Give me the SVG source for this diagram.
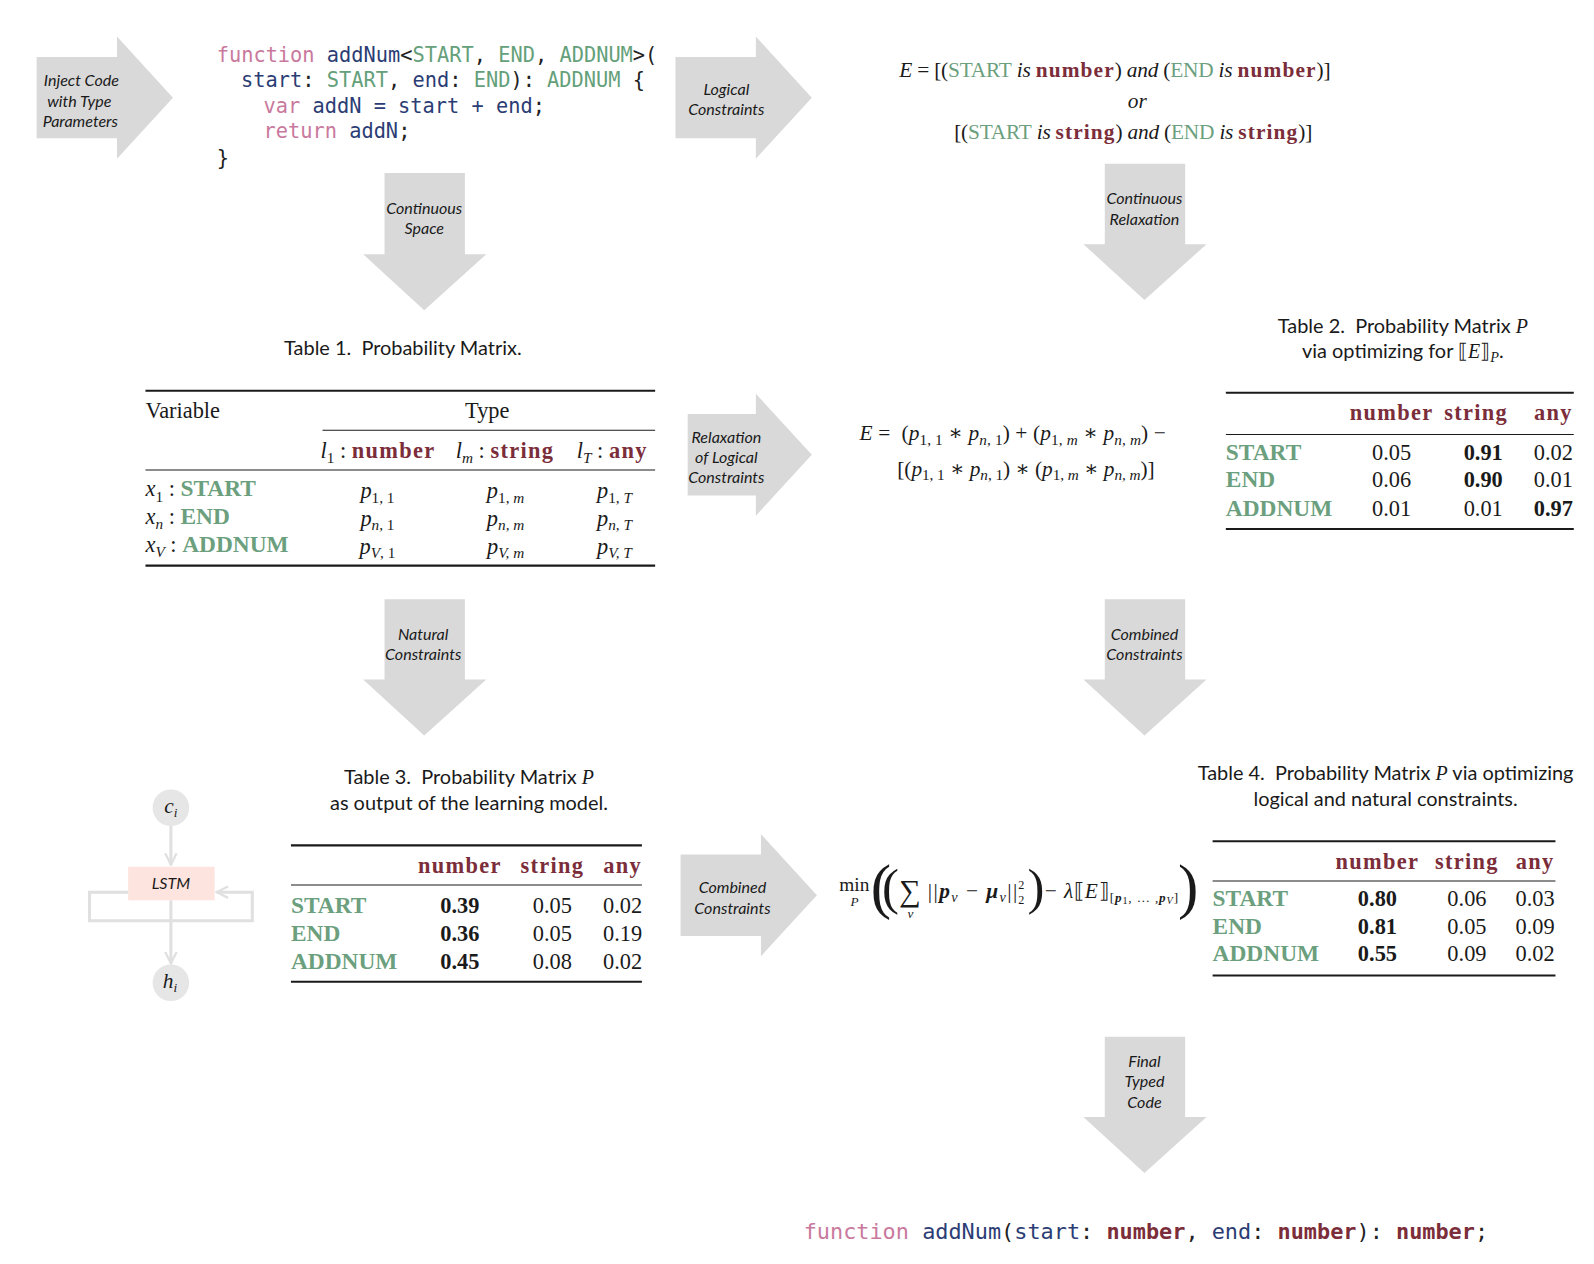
<svg xmlns="http://www.w3.org/2000/svg" width="1594" height="1264" viewBox="0 0 1594 1264">
<style>
.arrow{fill:#d9d9d9;}
.lbl{font-family:Lato,"Open Sans",sans-serif;font-style:italic;font-size:15.8px;fill:#1a1a1a;text-anchor:middle;}
.code{font-family:"DejaVu Sans Mono","Liberation Mono",monospace;font-size:20px;fill:#2b3d74;}
.code2{font-family:"DejaVu Sans Mono","Liberation Mono",monospace;font-size:21.5px;fill:#2b3d74;}
.pk{fill:#c9799d;}
.nv{fill:#2b3d74;}
.gr{fill:#64a07a;}
.dk{fill:#222;}
.rd{fill:#7b2d3a;font-weight:bold;}
.cap{font-family:Lato,"Open Sans",sans-serif;font-size:19.6px;fill:#1a1a1a;text-anchor:middle;}
.tb{font-family:"Liberation Serif","DejaVu Serif",serif;font-size:22px;fill:#1a1a1a;}
.eq{font-family:"Liberation Serif","DejaVu Serif",serif;font-size:21px;fill:#1a1a1a;}
.it{font-style:italic;}
.g{fill:#6b9f7e;font-weight:bold;font-size:23px;}
.gn{fill:#6b9f7e;}
.r{fill:#7b2d3a;font-weight:bold;letter-spacing:1.3px;}
.b{font-weight:bold;}
.mid{text-anchor:middle;}
.thick{stroke:#1a1a1a;stroke-width:2;}
.thin{stroke:#1a1a1a;stroke-width:1;}
.lstm{stroke:#e0e0e0;stroke-width:3;fill:none;}
</style>
<defs>
<marker id="chev" viewBox="0 0 10 10" refX="9" refY="5" markerWidth="14" markerHeight="14" orient="auto" markerUnits="userSpaceOnUse">
<path d="M1,1 L9,5 L1,9" fill="none" stroke="#e0e0e0" stroke-width="1.6"/>
</marker>
</defs>
<g transform="scale(1.0173)">
<g id="connectors">
<g id="arrow-inject">
<polygon class="arrow" points="36,56 115,56 115,36 170,96 115,156 115,136 36,136"/>
<text class="lbl" x="80" y="85">Inject Code</text>
<text class="lbl" x="78" y="105">with Type</text>
<text class="lbl" x="79" y="125">Parameters</text>
</g>
<g id="arrow-logical">
<polygon class="arrow" points="664,56 743,56 743,36 798,96 743,156 743,136 664,136"/>
<text class="lbl" x="714" y="93">Logical</text>
<text class="lbl" x="714" y="113">Constraints</text>
</g>
<g id="arrow-contspace">
<polygon class="arrow" points="378,170 457,170 457,250 478,250 417,305 357,250 378,250"/>
<text class="lbl" x="417" y="210">Continuous</text>
<text class="lbl" x="417" y="230">Space</text>
</g>
<g id="arrow-contrelax">
<polygon class="arrow" points="1086,161 1165,161 1165,240 1186,240 1125,295 1065,240 1086,240"/>
<text class="lbl" x="1125" y="201">Continuous</text>
<text class="lbl" x="1125" y="221">Relaxation</text>
</g>
<g id="arrow-relax">
<polygon class="arrow" points="676,407 743,407 743,387 798,447 743,507 743,487 676,487"/>
<text class="lbl" x="714" y="435">Relaxation</text>
<text class="lbl" x="714" y="455">of Logical</text>
<text class="lbl" x="714" y="475">Constraints</text>
</g>
<g id="arrow-natural">
<polygon class="arrow" points="378,589 457,589 457,668 478,668 417,723 357,668 378,668"/>
<text class="lbl" x="416" y="629">Natural</text>
<text class="lbl" x="416" y="649">Constraints</text>
</g>
<g id="arrow-combined-down">
<polygon class="arrow" points="1086,589 1165,589 1165,668 1186,668 1125,723 1065,668 1086,668"/>
<text class="lbl" x="1125" y="629">Combined</text>
<text class="lbl" x="1125" y="649">Constraints</text>
</g>
<g id="arrow-combined-right">
<polygon class="arrow" points="669,840 748,840 748,820 803,880 748,940 748,920 669,920"/>
<text class="lbl" x="720" y="878">Combined</text>
<text class="lbl" x="720" y="898">Constraints</text>
</g>
<g id="arrow-final">
<polygon class="arrow" points="1086,1019 1165,1019 1165,1098 1186,1098 1125,1153 1065,1098 1086,1098"/>
<text class="lbl" x="1125" y="1049">Final</text>
<text class="lbl" x="1125" y="1069">Typed</text>
<text class="lbl" x="1125" y="1089">Code</text>
</g>
</g>

<g id="code-input">
<text class="code" xml:space="preserve" x="213" y="61"><tspan class="pk">function</tspan> <tspan class="nv">addNum</tspan><tspan class="dk">&lt;</tspan><tspan class="gr">START</tspan><tspan class="dk">, </tspan><tspan class="gr">END</tspan><tspan class="dk">, </tspan><tspan class="gr">ADDNUM</tspan><tspan class="dk">&gt;(</tspan></text>
<text class="code" xml:space="preserve" x="237" y="86"><tspan class="nv">start</tspan><tspan class="dk">: </tspan><tspan class="gr">START</tspan><tspan class="dk">, </tspan><tspan class="nv">end</tspan><tspan class="dk">: </tspan><tspan class="gr">END</tspan><tspan class="dk">): </tspan><tspan class="gr">ADDNUM</tspan><tspan class="dk"> {</tspan></text>
<text class="code" xml:space="preserve" x="259" y="111"><tspan class="pk">var</tspan> <tspan class="nv">addN = start + end</tspan><tspan class="dk">;</tspan></text>
<text class="code" xml:space="preserve" x="259" y="136"><tspan class="pk">return</tspan> <tspan class="nv">addN</tspan><tspan class="dk">;</tspan></text>
<text class="code" x="213" y="162"><tspan class="dk">}</tspan></text>
</g>

<g id="logical-eq">
<text class="eq" x="884" y="76" textLength="424" lengthAdjust="spacing"><tspan class="it">E</tspan> = [(<tspan class="gn">START</tspan> <tspan class="it">is</tspan> <tspan class="r">number</tspan>) <tspan class="it">and</tspan> (<tspan class="gn">END</tspan> <tspan class="it">is</tspan> <tspan class="r">number</tspan>)]</text>
<text class="eq mid it" x="1118" y="106">or</text>
<text class="eq" x="938" y="137" textLength="352" lengthAdjust="spacing">[(<tspan class="gn">START</tspan> <tspan class="it">is</tspan> <tspan class="r">string</tspan>) <tspan class="it">and</tspan> (<tspan class="gn">END</tspan> <tspan class="it">is</tspan> <tspan class="r">string</tspan>)]</text>
</g>

<g id="table1">
<text class="cap" xml:space="preserve" x="396" y="349">Table 1.  Probability Matrix.</text>
<line class="thick" x1="143" y1="384" x2="644" y2="384"/>
<text class="tb" x="143" y="411">Variable</text>
<text class="tb mid" x="479" y="411">Type</text>
<line class="thin" x1="317" y1="423" x2="644" y2="423"/>
<text class="tb" x="315" y="450"><tspan class="it">l</tspan><tspan style="font-size:15px" dy="5">1</tspan><tspan dy="-5"> : </tspan><tspan class="r">number</tspan></text>
<text class="tb" x="448" y="450"><tspan class="it">l</tspan><tspan class="it" style="font-size:15px" dy="5">m</tspan><tspan dy="-5"> : </tspan><tspan class="r">string</tspan></text>
<text class="tb" x="567" y="450"><tspan class="it">l</tspan><tspan class="it" style="font-size:15px" dy="5">T</tspan><tspan dy="-5"> : </tspan><tspan class="r">any</tspan></text>
<line class="thin" x1="143" y1="462" x2="644" y2="462"/>
<text class="tb" x="143" y="488"><tspan class="it">x</tspan><tspan style="font-size:15px" dy="5">1</tspan><tspan dy="-5"> : </tspan><tspan class="g">START</tspan></text>
<text class="tb" x="143" y="515"><tspan class="it">x</tspan><tspan class="it" style="font-size:15px" dy="5">n</tspan><tspan dy="-5"> : </tspan><tspan class="g">END</tspan></text>
<text class="tb" x="143" y="543"><tspan class="it">x</tspan><tspan class="it" style="font-size:15px" dy="5">V</tspan><tspan dy="-5"> : </tspan><tspan class="g">ADDNUM</tspan></text>
<text class="tb mid" x="371" y="490"><tspan class="it">p</tspan><tspan style="font-size:15px" dy="4">1, 1</tspan></text>
<text class="tb mid" x="497" y="490"><tspan class="it">p</tspan><tspan style="font-size:15px" dy="4">1, <tspan class="it">m</tspan></tspan></text>
<text class="tb mid" x="604" y="490"><tspan class="it">p</tspan><tspan style="font-size:15px" dy="4">1, <tspan class="it">T</tspan></tspan></text>
<text class="tb mid" x="371" y="517"><tspan class="it">p</tspan><tspan style="font-size:15px" dy="4"><tspan class="it">n</tspan>, 1</tspan></text>
<text class="tb mid" x="497" y="517"><tspan class="it">p</tspan><tspan style="font-size:15px" dy="4" class="it">n, m</tspan></text>
<text class="tb mid" x="604" y="517"><tspan class="it">p</tspan><tspan style="font-size:15px" dy="4" class="it">n, T</tspan></text>
<text class="tb mid" x="371" y="545"><tspan class="it">p</tspan><tspan style="font-size:15px" dy="4"><tspan class="it">V</tspan>, 1</tspan></text>
<text class="tb mid" x="497" y="545"><tspan class="it">p</tspan><tspan style="font-size:15px" dy="4" class="it">V, m</tspan></text>
<text class="tb mid" x="604" y="545"><tspan class="it">p</tspan><tspan style="font-size:15px" dy="4" class="it">V, T</tspan></text>
<line class="thick" x1="143" y1="556" x2="644" y2="556"/>
</g>

<g id="relax-eq">
<text class="eq" xml:space="preserve" x="845" y="433" textLength="301" lengthAdjust="spacing"><tspan class="it">E</tspan> =  (<tspan class="it">p</tspan><tspan style="font-size:15px" dy="4">1, 1</tspan><tspan dy="-4"> ∗ </tspan><tspan class="it">p</tspan><tspan style="font-size:15px" dy="4"><tspan class="it">n</tspan>, 1</tspan><tspan dy="-4">) + (</tspan><tspan class="it">p</tspan><tspan style="font-size:15px" dy="4">1, <tspan class="it">m</tspan></tspan><tspan dy="-4"> ∗ </tspan><tspan class="it">p</tspan><tspan style="font-size:15px" dy="4" class="it">n, m</tspan><tspan dy="-4">) −</tspan></text>
<text class="eq" xml:space="preserve" x="882" y="468" textLength="253" lengthAdjust="spacing">[(<tspan class="it">p</tspan><tspan style="font-size:15px" dy="4">1, 1</tspan><tspan dy="-4"> ∗ </tspan><tspan class="it">p</tspan><tspan style="font-size:15px" dy="4"><tspan class="it">n</tspan>, 1</tspan><tspan dy="-4">) ∗ (</tspan><tspan class="it">p</tspan><tspan style="font-size:15px" dy="4">1, <tspan class="it">m</tspan></tspan><tspan dy="-4"> ∗ </tspan><tspan class="it">p</tspan><tspan style="font-size:15px" dy="4" class="it">n, m</tspan><tspan dy="-4">)]</tspan></text>
</g>

<g id="table2">
<text class="cap" xml:space="preserve" x="1379" y="327">Table 2.  Probability Matrix <tspan style="font-family:'Liberation Serif';font-style:italic">P</tspan></text>
<text class="cap" x="1379" y="352">via optimizing for ⟦<tspan style="font-family:'Liberation Serif';font-style:italic">E</tspan>⟧<tspan style="font-family:'Liberation Serif';font-style:italic;font-size:14px" dy="4">P</tspan><tspan dy="-4">.</tspan></text>
<line class="thick" x1="1205" y1="386" x2="1547" y2="386"/>
<text class="tb mid r" x="1368" y="413">number</text>
<text class="tb mid r" x="1451" y="413">string</text>
<text class="tb mid r" x="1527" y="413">any</text>
<line class="thin" x1="1205" y1="427" x2="1547" y2="427"/>
<text class="tb g" x="1205" y="452">START</text>
<text class="tb g" x="1205" y="479">END</text>
<text class="tb g" x="1205" y="507">ADDNUM</text>
<text class="tb mid" x="1368" y="452">0.05</text>
<text class="tb mid b" x="1458" y="452">0.91</text>
<text class="tb mid" x="1527" y="452">0.02</text>
<text class="tb mid" x="1368" y="479">0.06</text>
<text class="tb mid b" x="1458" y="479">0.90</text>
<text class="tb mid" x="1527" y="479">0.01</text>
<text class="tb mid" x="1368" y="507">0.01</text>
<text class="tb mid" x="1458" y="507">0.01</text>
<text class="tb mid b" x="1527" y="507">0.97</text>
<line class="thick" x1="1205" y1="520" x2="1547" y2="520"/>
</g>

<g id="lstm">
<circle cx="168" cy="794" r="18" fill="#e6e6e6"/>
<text class="eq mid it" x="168" y="799">c<tspan style="font-size:13px" dy="4">i</tspan></text>
<line class="lstm" x1="168" y1="812" x2="168" y2="850" marker-end="url(#chev)"/>
<rect x="126" y="852" width="85" height="33" fill="#fde4df"/>
<text class="lbl" x="168" y="874">LSTM</text>
<polyline class="lstm" points="126,877 88,877 88,905 248,905 248,877 213,877" marker-end="url(#chev)"/>
<line class="lstm" x1="168" y1="885" x2="168" y2="947" marker-end="url(#chev)"/>
<circle cx="168" cy="966" r="18" fill="#e6e6e6"/>
<text class="eq mid it" x="167" y="971">h<tspan style="font-size:13px" dy="4">i</tspan></text>
</g>

<g id="table3">
<text class="cap" xml:space="preserve" x="461" y="771">Table 3.  Probability Matrix <tspan style="font-family:'Liberation Serif';font-style:italic">P</tspan></text>
<text class="cap" x="461" y="796">as output of the learning model.</text>
<line class="thick" x1="286" y1="831" x2="631" y2="831"/>
<text class="tb mid r" x="452" y="858">number</text>
<text class="tb mid r" x="543" y="858">string</text>
<text class="tb mid r" x="612" y="858">any</text>
<line class="thin" x1="286" y1="870" x2="631" y2="870"/>
<text class="tb g" x="286" y="897">START</text>
<text class="tb g" x="286" y="925">END</text>
<text class="tb g" x="286" y="953">ADDNUM</text>
<text class="tb mid b" x="452" y="897">0.39</text>
<text class="tb mid" x="543" y="897">0.05</text>
<text class="tb mid" x="612" y="897">0.02</text>
<text class="tb mid b" x="452" y="925">0.36</text>
<text class="tb mid" x="543" y="925">0.05</text>
<text class="tb mid" x="612" y="925">0.19</text>
<text class="tb mid b" x="452" y="953">0.45</text>
<text class="tb mid" x="543" y="953">0.08</text>
<text class="tb mid" x="612" y="953">0.02</text>
<line class="thick" x1="286" y1="965" x2="631" y2="965"/>
</g>

<g id="min-eq">
<text class="eq" x="825" y="876" style="font-size:19px">min</text>
<text class="eq it" x="836" y="891" style="font-size:13px">P</text>
<text class="eq" x="856" y="892" style="font-size:60px">(</text>
<text class="eq" x="867" y="889" style="font-size:50px">(</text>
<text class="eq" x="884" y="886" style="font-size:30px">∑</text>
<text class="eq it" x="892" y="902" style="font-size:13px">v</text>
<text class="eq" x="912" y="883" textLength="88" lengthAdjust="spacing">||<tspan class="b it">p</tspan><tspan style="font-size:14px" dy="4" class="it">v</tspan><tspan dy="-4"> − </tspan><tspan class="b it">μ</tspan><tspan style="font-size:14px" dy="4" class="it">v</tspan><tspan dy="-4">||</tspan></text>
<text class="eq" x="1001" y="874" style="font-size:12px">2</text>
<text class="eq" x="1001" y="889" style="font-size:12px">2</text>
<text class="eq" x="1010" y="889" style="font-size:50px">)</text>
<text class="eq" x="1027" y="883" textLength="131" lengthAdjust="spacing">− <tspan class="it">λ</tspan>⟦<tspan class="it">E</tspan>⟧<tspan style="font-size:13px" dy="4">[<tspan class="b it">p</tspan><tspan style="font-size:10px" dy="2">1</tspan><tspan dy="-2">, … ,</tspan><tspan class="b it">p</tspan><tspan style="font-size:10px" dy="2" class="it">V</tspan><tspan dy="-2">]</tspan></tspan></text>
<text class="eq" x="1158" y="892" style="font-size:60px">)</text>
</g>

<g id="table4">
<text class="cap" xml:space="preserve" x="1362" y="767">Table 4.  Probability Matrix <tspan style="font-family:'Liberation Serif';font-style:italic">P</tspan> via optimizing</text>
<text class="cap" x="1362" y="792">logical and natural constraints.</text>
<line class="thick" x1="1192" y1="827" x2="1529" y2="827"/>
<text class="tb mid r" x="1354" y="854">number</text>
<text class="tb mid r" x="1442" y="854">string</text>
<text class="tb mid r" x="1509" y="854">any</text>
<line class="thin" x1="1192" y1="866" x2="1529" y2="866"/>
<text class="tb g" x="1192" y="891">START</text>
<text class="tb g" x="1192" y="918">END</text>
<text class="tb g" x="1192" y="945">ADDNUM</text>
<text class="tb mid b" x="1354" y="891">0.80</text>
<text class="tb mid" x="1442" y="891">0.06</text>
<text class="tb mid" x="1509" y="891">0.03</text>
<text class="tb mid b" x="1354" y="918">0.81</text>
<text class="tb mid" x="1442" y="918">0.05</text>
<text class="tb mid" x="1509" y="918">0.09</text>
<text class="tb mid b" x="1354" y="945">0.55</text>
<text class="tb mid" x="1442" y="945">0.09</text>
<text class="tb mid" x="1509" y="945">0.02</text>
<line class="thick" x1="1192" y1="959" x2="1529" y2="959"/>
</g>

<g id="code-output">
<text class="code2" xml:space="preserve" x="790" y="1218"><tspan class="pk">function</tspan> <tspan class="nv">addNum</tspan><tspan class="dk">(</tspan><tspan class="nv">start</tspan><tspan class="dk">: </tspan><tspan class="rd">number</tspan><tspan class="dk">, </tspan><tspan class="nv">end</tspan><tspan class="dk">: </tspan><tspan class="rd">number</tspan><tspan class="dk">): </tspan><tspan class="rd">number</tspan><tspan class="dk">;</tspan></text>
</g>
</g>
</svg>
